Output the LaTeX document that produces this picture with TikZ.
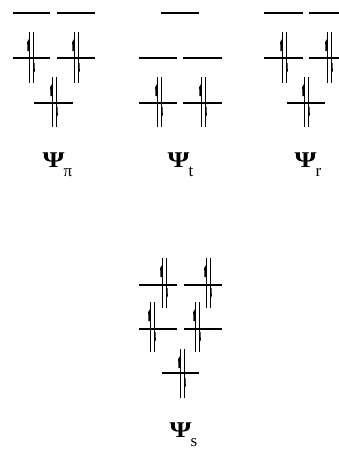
\documentclass[tikz,border=0pt]{standalone}
\usepackage{fontspec}
\newfontfamily\lblfont{Liberation Serif}
\tikzset{
  lvl/.style={line width=1.3pt},
  spinline/.style={line width=0.8pt},
  lbl/.style={font=\lblfont\fontsize{22.5}{26}\selectfont, inner sep=0pt, anchor=base west}
}
\newcommand\mkLevel[3]{\draw[lvl] (#1,#3) -- (#2,#3);}
% #1 x of up line, #2 top, #3 bottom
\newcommand\mkSpins[3]{%
  \draw[spinline] (#1,#2) -- (#1,#3);
  \fill (#1,#2+7) -- (#1-1.8,#2+10) -- (#1-1.6,#2+19) -- (#1,#2+19) -- cycle;
  \draw[spinline] (#1+4,#2) -- (#1+4,#3);
  \fill (#1+4,#3-20) -- (#1+5.6,#3-20) -- (#1+5.8,#3-12) -- (#1+4,#3-9) -- cycle;
}
\newcommand\mkPsi[1]{\scalebox{1.25}[1]{\bfseries Ψ}\kern-1pt\raisebox{-9pt}{\fontsize{17}{17}\selectfont #1}}
\begin{document}
\begin{tikzpicture}[x=1pt,y=-1pt]
\useasboundingbox (0,0) rectangle (339,450);
% group pi
\mkLevel{13}{50}{13}\mkLevel{57}{95}{13}
\mkLevel{13}{50}{58}\mkLevel{57}{95}{58}
\mkSpins{29}{32}{83}\mkSpins{74}{32}{83}
\mkLevel{34}{73}{103}
\mkSpins{52}{77}{127}
\node[lbl] (lpi) at (42.5,167) {\mkPsi{π}};
% group t
\mkLevel{161}{199}{13}
\mkLevel{139}{177}{58}\mkLevel{183}{222}{58}
\mkLevel{139}{177}{103}\mkLevel{183}{222}{103}
\mkSpins{157}{77}{127}\mkSpins{201}{77}{127}
\node[lbl] (lt) at (167.5,167) {\mkPsi{t}};
% group r
\mkLevel{264}{303}{13}\mkLevel{309}{339}{13}
\mkLevel{264}{303}{58}\mkLevel{309}{339}{58}
\mkSpins{282}{32}{83}\mkSpins{327}{32}{83}
\mkLevel{287}{325}{103}
\mkSpins{304}{77}{127}
\node[lbl] (lr) at (294.5,167) {\mkPsi{r}};
% group s
\mkLevel{139}{177}{285}\mkLevel{184}{222}{285}
\mkSpins{162}{258}{308}\mkSpins{206}{258}{308}
\mkLevel{139}{177}{329}\mkLevel{184}{222}{329}
\mkSpins{150}{302}{352}\mkSpins{195}{302}{352}
\mkLevel{162}{199}{373}
\mkSpins{180}{349}{398}
\node[lbl] (ls) at (169.5,437) {\mkPsi{s}};
\end{tikzpicture}
\end{document}
